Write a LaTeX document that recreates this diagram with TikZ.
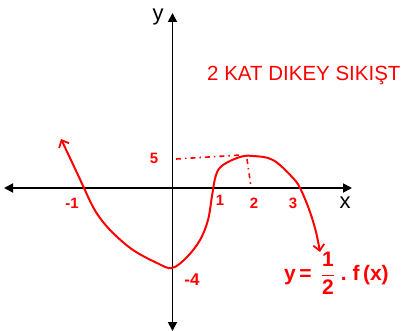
\documentclass[tikz,border=0pt]{standalone}
\usepackage{fontspec}
\setmainfont{Liberation Sans}
\usetikzlibrary{arrows.meta}
\begin{document}
\begin{tikzpicture}[x=1pt,y=-1pt,
  axis/.style={line width=1.8pt,black,-{Triangle[length=9pt,width=9pt]}},
  curve/.style={line width=2pt,red,line cap=round,line join=round},
  lab/.style={text=red,font=\fontsize{15}{15}\selectfont\bfseries,inner sep=0pt},
  guide/.style={red,line width=1.6pt,dash pattern=on 5pt off 4pt on 1.5pt off 4pt}]
\useasboundingbox (0,0) rectangle (406,331);
\fill[white] (0,0) rectangle (406,331);
% axes
\coordinate (o) at (172.5,188);
\coordinate (xl) at (4,188); \coordinate (xr) at (352,188);
\coordinate (yt) at (172.5,13); \coordinate (yb) at (172.5,331);
\draw[axis] (o) -- (xl);
\draw[axis] (o) -- (xr);
\draw[axis] (o) -- (yt);
\draw[axis] (o) -- (yb);
\node[font=\fontsize{22}{22}\selectfont,inner sep=0pt] (ylab) at (158,17) {y};
\node[font=\fontsize{22}{22}\selectfont,inner sep=0pt] (xlab) at (345,203) {x};
% heading (cut at the right edge in the reference)
\node[anchor=west,text=red,font=\fontsize{20.5}{20.5}\selectfont,inner sep=0pt] (title) at (207,76) {2 KAT DIKEY SIKIŞT};
% guides
\coordinate (g1) at (176,159); \coordinate (g2) at (241,155);
\coordinate (g3) at (247,159); \coordinate (g4) at (251,187);
\draw[guide] (g1) -- (g2);
\draw[guide] (g3) -- (g4);
% curve
\draw[curve,{Straight Barb[length=6pt,width=11pt,line width=1.8pt]}-{Straight Barb[length=6pt,width=11pt,line width=1.8pt]}]
  plot[smooth,tension=0.6] coordinates {(61,139) (70,158) (78,175) (84,188) (92,205) (100,218) (113,233) (133,250) (157,263) (172,268)
  (187,257) (200,240) (208,220) (212,196) (216,175) (223,165) (240,157) (253,156) (273,160) (293,178) (301,190) (310,212) (316,232) (320,252)};
% labels
\node[lab] (l5) at (154,158) {5};
\node[lab] (lm1) at (72,203) {-1};
\node[lab] (l1) at (220,200) {1};
\node[lab] (l2) at (254,203) {2};
\node[lab] (l3) at (293,203) {3};
\node[lab,font=\fontsize{17}{17}\selectfont\bfseries] (lm4) at (192,280) {-4};
\node[lab,anchor=west,font=\fontsize{21}{21}\selectfont\bfseries] (eq) at (284,273) {y\,=\;\,$\displaystyle\frac{\mbox{1}}{\mbox{2}}$\;.\;f\,(x)};
\end{tikzpicture}
\end{document}
